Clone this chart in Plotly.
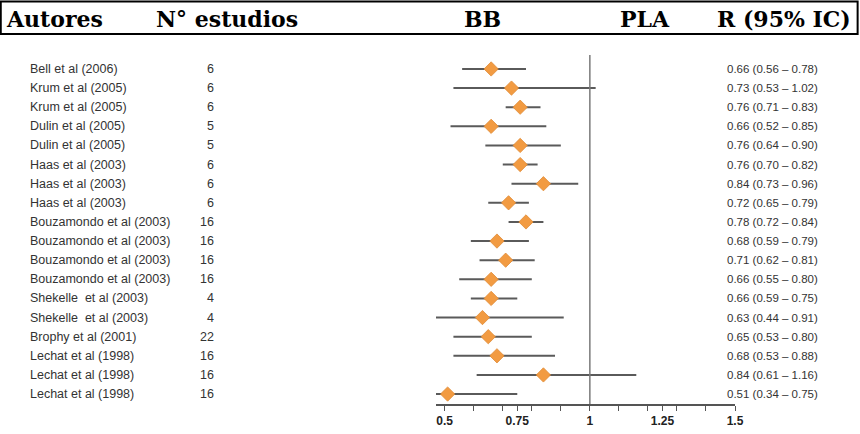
import plotly.graph_objects as go

autores = ["Bell et al (2006)", "Krum et al (2005)", "Krum et al (2005)", "Dulin et al (2005)",
           "Dulin et al (2005)", "Haas et al (2003)", "Haas et al (2003)", "Haas et al (2003)",
           "Bouzamondo et al (2003)", "Bouzamondo et al (2003)", "Bouzamondo et al (2003)",
           "Bouzamondo et al (2003)", "Shekelle  et al (2003)", "Shekelle  et al (2003)",
           "Brophy et al (2001)", "Lechat et al (1998)", "Lechat et al (1998)", "Lechat et al (1998)"]
estudios = [6, 6, 6, 5, 5, 6, 6, 6, 16, 16, 16, 16, 4, 4, 22, 16, 16, 16]
rr = [0.66, 0.73, 0.76, 0.66, 0.76, 0.76, 0.84, 0.72, 0.78, 0.68, 0.71, 0.66, 0.66, 0.63, 0.65, 0.68, 0.84, 0.51]
ic_low = [0.56, 0.53, 0.71, 0.52, 0.64, 0.70, 0.73, 0.65, 0.72, 0.59, 0.62, 0.55, 0.59, 0.44, 0.53, 0.53, 0.61, 0.34]
ic_high = [0.78, 1.02, 0.83, 0.85, 0.90, 0.82, 0.96, 0.79, 0.84, 0.79, 0.81, 0.80, 0.75, 0.91, 0.80, 0.88, 1.16, 0.75]
tick_vals = [0.5, 0.75, 1, 1.25, 1.5]
tick_text = ["0.5", "0.75", "1", "1.25", "1.5"]
minor_vals = [0.6, 0.7, 0.8, 0.9, 1.1, 1.2, 1.3, 1.4]
headers = ["Autores", "N° estudios", "BB", "PLA", "R (95% IC)"]

W, H = 860, 434
L, R_, T, B = 436.3, 735.0, 55.0, 404.0
X_RANGE = [0.47, 1.5]


def px(xp):
    return (xp - L) / (R_ - L)


def py(yp):
    return (B - yp) / (B - T)


rows = list(range(len(autores)))

# CI lines
xs, ys = [], []
for i in rows:
    xs += [ic_low[i], ic_high[i], None]
    ys += [i, i, None]

fig = go.Figure()
fig.add_trace(go.Scatter(x=xs, y=ys, mode="lines",
                         line=dict(color="#5a5a5a", width=2), hoverinfo="skip"))
fig.add_trace(go.Scatter(x=rr, y=rows, mode="markers",
                         marker=dict(symbol="diamond", size=11, color="#F29B42",
                                     line=dict(color="#E08A35", width=0.8))))

ann = []
font_lab = dict(family="Liberation Sans, Arial", size=12.5, color="#333333")
for i in rows:
    ann.append(dict(x=px(29), y=i, xref="paper", yref="y", text=autores[i],
                    xanchor="left", yanchor="middle", showarrow=False, font=font_lab))
    ann.append(dict(x=px(217), y=i, xref="paper", yref="y", text=str(estudios[i]),
                    xanchor="right", yanchor="middle", showarrow=False, font=font_lab))
    ann.append(dict(x=px(725), y=i, xref="paper", yref="y",
                    text=f"{rr[i]:.2f} ({ic_low[i]:.2f} – {ic_high[i]:.2f})",
                    xanchor="left", yanchor="middle", showarrow=False,
                    font=dict(family="Liberation Sans, Arial", size=11.5, color="#333333")))

head_pos = [(5, "left"), (155, "left"), (483, "center"), (672, "right"), (853, "right")]
for h, (hx, anc) in zip(headers, head_pos):
    ann.append(dict(x=px(hx), y=py(19), xref="paper", yref="paper", text=f"<b>{h}</b>",
                    xanchor=anc, yanchor="middle", showarrow=False,
                    font=dict(family="DejaVu Serif", size=22, color="#000000")))

shapes = [
    # header box
    dict(type="rect", xref="paper", yref="paper", x0=px(1.5), x1=px(857.5), y0=py(34), y1=py(1.5),
         line=dict(color="#000000", width=2)),
    # reference line at 1
    dict(type="line", xref="x", yref="paper", x0=1, x1=1, y0=0, y1=1,
         line=dict(color="#7a7a7a", width=1.5)),
]

fig.update_layout(
    width=W, height=H,
    margin=dict(l=L, r=W - R_, t=T, b=H - B, autoexpand=False),
    paper_bgcolor="white", plot_bgcolor="white",
    showlegend=False,
    annotations=ann, shapes=shapes,
    xaxis=dict(range=X_RANGE, tickmode="array", tickvals=tick_vals,
               ticktext=[f"<b>{t}</b>" for t in tick_text],
               ticks="outside", ticklen=5, tickwidth=1.2, tickcolor="#555555",
               minor=dict(tickmode="array", tickvals=minor_vals,
                          ticks="outside", ticklen=5, tickwidth=1.2, tickcolor="#555555"),
               showgrid=False, zeroline=False,
               showline=True, linecolor="#555555", linewidth=1.5,
               automargin=False,
               tickfont=dict(family="Liberation Sans, Arial", size=12, color="#222222")),
    yaxis=dict(range=[17.52, -0.73], showticklabels=False, showgrid=False, automargin=False,
               zeroline=False, showline=False, ticks=""),
)

fig.write_html("out.html", config={"displayModeBar": False},
               post_script="document.body.style.margin='0px';")
